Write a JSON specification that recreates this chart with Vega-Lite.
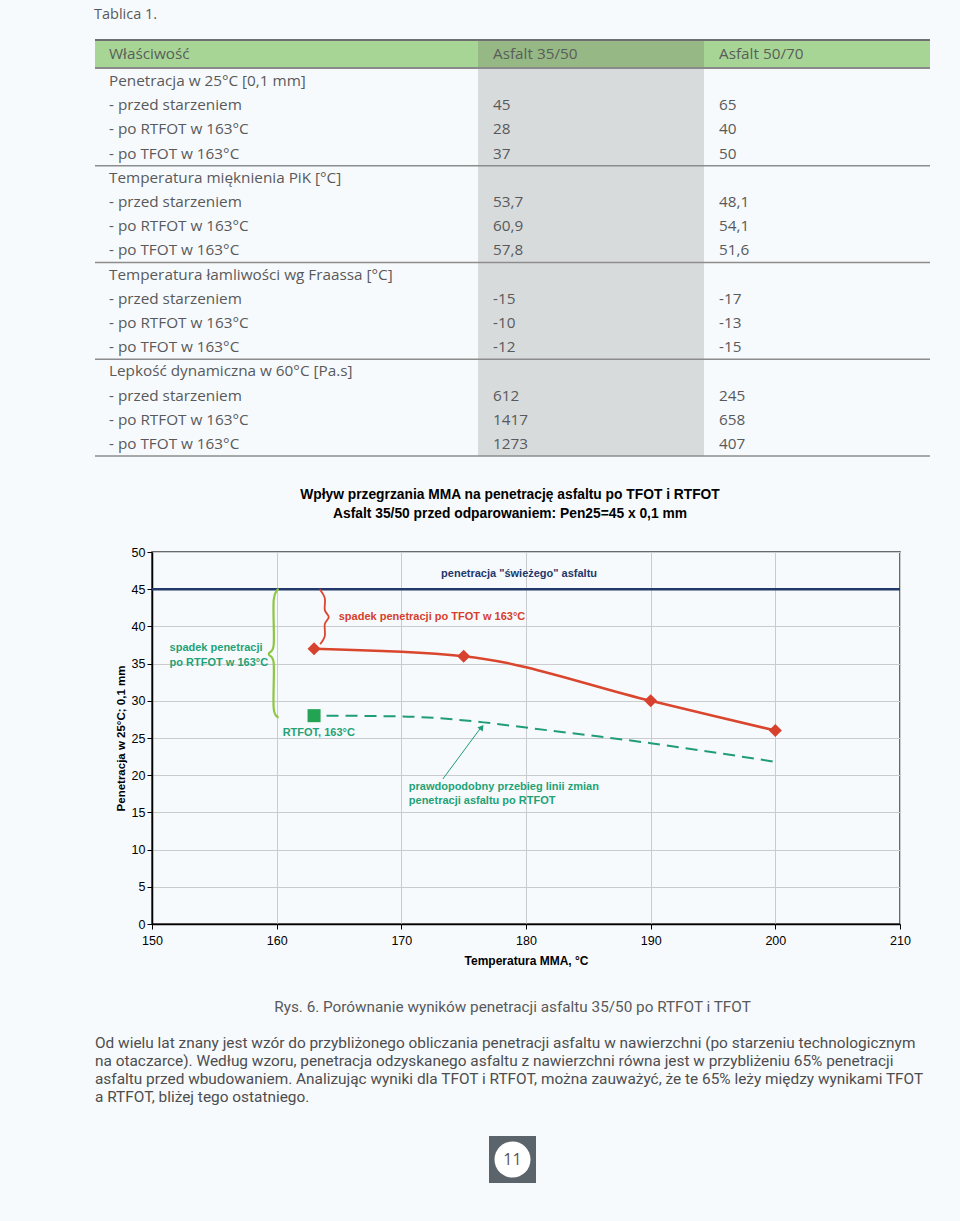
{
  "$schema": "https://vega.github.io/schema/vega-lite/v6.json",
  "background": "#f7fafc",
  "padding": {"top": 6, "left": 94, "right": 29, "bottom": 38},
  "spacing": 30,
  "config": {"view": {"stroke": null}, "font": "Open Sans"},
  "datasets": {
    "table": [
      {"line": 1, "group": "pen", "prop": "Penetracja w 25°C [0,1 mm]", "a": "", "b": ""},
      {"line": 2, "group": "pen", "prop": "- przed starzeniem", "a": "45", "b": "65"},
      {"line": 3, "group": "pen", "prop": "- po RTFOT w 163°C", "a": "28", "b": "40"},
      {"line": 4, "group": "pen", "prop": "- po TFOT w 163°C", "a": "37", "b": "50"},
      {"line": 5, "group": "pik", "prop": "Temperatura mięknienia PiK [°C]", "a": "", "b": ""},
      {"line": 6, "group": "pik", "prop": "- przed starzeniem", "a": "53,7", "b": "48,1"},
      {"line": 7, "group": "pik", "prop": "- po RTFOT w 163°C", "a": "60,9", "b": "54,1"},
      {"line": 8, "group": "pik", "prop": "- po TFOT w 163°C", "a": "57,8", "b": "51,6"},
      {"line": 9, "group": "fr", "prop": "Temperatura łamliwości wg Fraassa [°C]", "a": "", "b": ""},
      {"line": 10, "group": "fr", "prop": "- przed starzeniem", "a": "-15", "b": "-17"},
      {"line": 11, "group": "fr", "prop": "- po RTFOT w 163°C", "a": "-10", "b": "-13"},
      {"line": 12, "group": "fr", "prop": "- po TFOT w 163°C", "a": "-12", "b": "-15"},
      {"line": 13, "group": "lep", "prop": "Lepkość dynamiczna w 60°C [Pa.s]", "a": "", "b": ""},
      {"line": 14, "group": "lep", "prop": "- przed starzeniem", "a": "612", "b": "245"},
      {"line": 15, "group": "lep", "prop": "- po RTFOT w 163°C", "a": "1417", "b": "658"},
      {"line": 16, "group": "lep", "prop": "- po TFOT w 163°C", "a": "1273", "b": "407"}
    ],
    "fresh": [{"t": 150, "p": 45}, {"t": 210, "p": 45}],
    "tfot": [{"t": 163, "p": 37}, {"t": 175, "p": 36}, {"t": 190, "p": 30}, {"t": 200, "p": 26}],
    "rtfot": [{"t": 163, "p": 28}],
    "proj": [{"t": 164, "p": 28}, {"t": 170, "p": 27.9}, {"t": 176.6, "p": 27.1}, {"t": 180, "p": 26.4}, {"t": 190, "p": 24.3}, {"t": 200, "p": 21.8}],
    "brace_tfot": [{"t": 163.45, "p": 45.0}, {"t": 163.86, "p": 43.8}, {"t": 163.86, "p": 42.2}, {"t": 164.18, "p": 41.26}, {"t": 163.86, "p": 40.3}, {"t": 163.86, "p": 38.7}, {"t": 163.49, "p": 37.6}],
    "brace_rtfot": [{"t": 160.16, "p": 45.03}, {"t": 159.76, "p": 43.55}, {"t": 159.76, "p": 37.5}, {"t": 159.36, "p": 36.29}, {"t": 159.76, "p": 35.08}, {"t": 159.76, "p": 29.0}, {"t": 160.16, "p": 27.8}],
    "arrow": [{"t": 173.33, "p": 19.49}, {"t": 176.45, "p": 26.55}],
    "arrowhead": [{"t": 176.45, "p": 26.45}],
    "notes": [
      {"t": 173.19, "p": 47.04, "s": "fresh", "txt": "penetracja \"świeżego\" asfaltu"},
      {"t": 164.98, "p": 41.26, "s": "TFOT", "txt": "spadek penetracji po TFOT w 163°C"},
      {"t": 151.41, "p": 37.1, "s": "RTFOT", "txt": "spadek penetracji"},
      {"t": 151.41, "p": 35.08, "s": "RTFOT", "txt": "po RTFOT w 163°C"},
      {"t": 160.48, "p": 25.67, "s": "RTFOT", "txt": "RTFOT, 163°C"},
      {"t": 170.6, "p": 18.41, "s": "RTFOT", "txt": "prawdopodobny przebieg linii zmian"},
      {"t": 170.6, "p": 16.53, "s": "RTFOT", "txt": "penetracji asfaltu po RTFOT"}
    ],
    "para": [
      {"k": "caption", "t": "Rys. 6. Porównanie wyników penetracji asfaltu 35/50 po RTFOT i TFOT"},
      {"k": "p1", "t": "Od wielu lat znany jest wzór do przybliżonego obliczania penetracji asfaltu w nawierzchni (po starzeniu technologicznym"},
      {"k": "p2", "t": "na otaczarce). Według wzoru, penetracja odzyskanego asfaltu z nawierzchni równa jest w przybliżeniu 65% penetracji"},
      {"k": "p3", "t": "asfaltu przed wbudowaniem. Analizując wyniki dla TFOT i RTFOT, można zauważyć, że te 65% leży między wynikami TFOT"},
      {"k": "p4", "t": "a RTFOT, bliżej tego ostatniego."}
    ]
  },
  "vconcat": [
    {
      "title": {"text": "Tablica 1.", "anchor": "start", "font": "Open Sans", "fontSize": 14.5, "fontWeight": "normal", "color": "#58595b", "offset": 17},
      "spacing": 0,
      "vconcat": [
        {
          "spacing": 0,
          "bounds": "flush",
          "hconcat": [
            {
              "width": 383, "height": 28,
              "view": {"fill": "#a7d596"},
              "data": {"values": [{"h": "Właściwość"}]},
              "layer": [
                {"mark": {"type": "text", "align": "left", "baseline": "middle", "dx": 14, "fontSize": 15.3, "color": "#5a5d5a"}, "encoding": {"x": {"value": 0}, "text": {"field": "h"}}},
                {"mark": {"type": "rule", "color": "#6f6f6f", "strokeWidth": 2}, "encoding": {"x": {"value": 0}, "x2": {"value": "width"}, "y": {"value": 0}}},
                {"mark": {"type": "rule", "color": "#8a8a8a", "strokeWidth": 2}, "encoding": {"x": {"value": 0}, "x2": {"value": "width"}, "y": {"value": "height"}}}
              ]
            },
            {
              "width": 226, "height": 28,
              "view": {"fill": "#95b885"},
              "data": {"values": [{"h": "Asfalt 35/50"}]},
              "layer": [
                {"mark": {"type": "text", "align": "left", "baseline": "middle", "dx": 15, "fontSize": 15.3, "color": "#5a5d5a"}, "encoding": {"x": {"value": 0}, "text": {"field": "h"}}},
                {"mark": {"type": "rule", "color": "#6f6f6f", "strokeWidth": 2}, "encoding": {"x": {"value": 0}, "x2": {"value": "width"}, "y": {"value": 0}}},
                {"mark": {"type": "rule", "color": "#8a8a8a", "strokeWidth": 2}, "encoding": {"x": {"value": 0}, "x2": {"value": "width"}, "y": {"value": "height"}}}
              ]
            },
            {
              "width": 226, "height": 28,
              "view": {"fill": "#a7d596"},
              "data": {"values": [{"h": "Asfalt 50/70"}]},
              "layer": [
                {"mark": {"type": "text", "align": "left", "baseline": "middle", "dx": 15, "fontSize": 15.3, "color": "#5a5d5a"}, "encoding": {"x": {"value": 0}, "text": {"field": "h"}}},
                {"mark": {"type": "rule", "color": "#6f6f6f", "strokeWidth": 2}, "encoding": {"x": {"value": 0}, "x2": {"value": "width"}, "y": {"value": 0}}},
                {"mark": {"type": "rule", "color": "#8a8a8a", "strokeWidth": 2}, "encoding": {"x": {"value": 0}, "x2": {"value": "width"}, "y": {"value": "height"}}}
              ]
            }
          ]
        },
        {
          "spacing": 0,
          "bounds": "flush",
          "hconcat": [
            {
              "width": 383, "height": 387,
              "data": {"name": "table"},
              "layer": [
                {"mark": {"type": "text", "align": "left", "baseline": "middle", "dx": 14, "fontSize": 15.3, "color": "#58595b"},
                 "encoding": {"x": {"value": 0}, "y": {"field": "line", "type": "ordinal", "scale": {"type": "band", "paddingInner": 0, "paddingOuter": 0}, "axis": null}, "text": {"field": "prop"}}},
                {"transform": [{"aggregate": [{"op": "max", "field": "line", "as": "line"}], "groupby": ["group"]}],
                 "mark": {"type": "rule", "color": "#8c8c8c", "strokeWidth": 1.5},
                 "encoding": {"x": {"value": 0}, "x2": {"value": "width"}, "y": {"field": "line", "type": "ordinal", "bandPosition": 1}}}
              ]
            },
            {
              "width": 226, "height": 387,
              "view": {"fill": "#d8dbdc"},
              "data": {"name": "table"},
              "layer": [
                {"mark": {"type": "text", "align": "left", "baseline": "middle", "dx": 15, "fontSize": 15.3, "color": "#58595b"},
                 "encoding": {"x": {"value": 0}, "y": {"field": "line", "type": "ordinal", "scale": {"type": "band", "paddingInner": 0, "paddingOuter": 0}, "axis": null}, "text": {"field": "a"}}},
                {"transform": [{"aggregate": [{"op": "max", "field": "line", "as": "line"}], "groupby": ["group"]}],
                 "mark": {"type": "rule", "color": "#8c8c8c", "strokeWidth": 1.5},
                 "encoding": {"x": {"value": 0}, "x2": {"value": "width"}, "y": {"field": "line", "type": "ordinal", "bandPosition": 1}}}
              ]
            },
            {
              "width": 226, "height": 387,
              "data": {"name": "table"},
              "layer": [
                {"mark": {"type": "text", "align": "left", "baseline": "middle", "dx": 15, "fontSize": 15.3, "color": "#58595b"},
                 "encoding": {"x": {"value": 0}, "y": {"field": "line", "type": "ordinal", "scale": {"type": "band", "paddingInner": 0, "paddingOuter": 0}, "axis": null}, "text": {"field": "b"}}},
                {"transform": [{"aggregate": [{"op": "max", "field": "line", "as": "line"}], "groupby": ["group"]}],
                 "mark": {"type": "rule", "color": "#8c8c8c", "strokeWidth": 1.5},
                 "encoding": {"x": {"value": 0}, "x2": {"value": "width"}, "y": {"field": "line", "type": "ordinal", "bandPosition": 1}}}
              ]
            }
          ]
        }
      ]
    },
    {
      "spacing": 18,
      "hconcat": [
        {
          "width": 1, "height": 1,
          "data": {"values": [{}]},
          "mark": {"type": "text", "text": ""}
        },
        {
          "width": 748, "height": 372,
          "view": {"stroke": "#3a3a3a", "strokeWidth": 1.5},
          "title": {"text": ["Wpływ przegrzania MMA na penetrację asfaltu po TFOT i RTFOT", "Asfalt 35/50 przed odparowaniem: Pen25=45 x 0,1 mm"], "font": "Liberation Sans", "fontSize": 13.8, "fontWeight": "bold", "color": "#000000", "lineHeight": 19, "anchor": "middle", "dx": -16, "offset": 25},
          "encoding": {
            "x": {"field": "t", "type": "quantitative", "scale": {"domain": [150, 210], "nice": false, "zero": false},
                  "axis": {"values": [150, 160, 170, 180, 190, 200, 210], "format": "d", "title": "Temperatura MMA, °C",
                           "titleFont": "Liberation Sans Narrow, Liberation Sans", "titleFontSize": 12, "titleFontWeight": "bold", "titleColor": "#000000", "titlePadding": 9,
                           "labelFont": "Liberation Sans Narrow, Liberation Sans", "labelFontSize": 12.5, "labelColor": "#000000", "labelPadding": 5, "labelFlush": false,
                           "tickColor": "#000000", "tickSize": 5, "domainColor": "#000000", "domainWidth": 1.5, "gridColor": "#c9cbcd", "gridWidth": 1}},
            "y": {"field": "p", "type": "quantitative", "scale": {"domain": [0, 50], "nice": false},
                  "axis": {"values": [0, 5, 10, 15, 20, 25, 30, 35, 40, 45, 50], "title": "Penetracja w 25°C; 0,1 mm",
                           "titleFont": "Liberation Sans", "titleFontSize": 11.5, "titleFontWeight": "bold", "titleColor": "#000000", "titlePadding": 5,
                           "labelFont": "Liberation Sans", "labelFontSize": 12.5, "labelColor": "#000000", "labelPadding": 2,
                           "tickColor": "#000000", "tickSize": 5, "domainColor": "#000000", "domainWidth": 1.5, "gridColor": "#c9cbcd", "gridWidth": 1}}
          },
          "layer": [
            {"data": {"name": "fresh"}, "mark": {"type": "line", "color": "#23386b", "strokeWidth": 2.5}},
            {"data": {"name": "proj"}, "mark": {"type": "line", "color": "#1f9d74", "strokeWidth": 2, "strokeDash": [12, 7], "interpolate": "monotone"}},
            {"data": {"name": "tfot"}, "mark": {"type": "line", "color": "#d9452d", "strokeWidth": 2.5, "interpolate": "monotone"}},
            {"data": {"name": "tfot"}, "mark": {"type": "point", "shape": "diamond", "filled": true, "opacity": 1, "size": 170, "color": "#d9412f"}},
            {"data": {"name": "rtfot"}, "mark": {"type": "point", "shape": "square", "filled": true, "opacity": 1, "size": 170, "color": "#23a455"}},
            {"data": {"name": "brace_tfot"}, "mark": {"type": "line", "color": "#d9452d", "strokeWidth": 1.8, "interpolate": "cardinal"}, "encoding": {"order": {"value": null}}},
            {"data": {"name": "brace_rtfot"}, "mark": {"type": "line", "color": "#8dc641", "strokeWidth": 2.2, "interpolate": "cardinal"}, "encoding": {"order": {"value": null}}},
            {"data": {"name": "arrow"}, "mark": {"type": "line", "color": "#1f9d74", "strokeWidth": 1}},
            {"data": {"name": "arrowhead"}, "mark": {"type": "point", "shape": "triangle-up", "filled": true, "opacity": 1, "size": 45, "angle": 37, "color": "#1f9d74"}},
            {"data": {"name": "notes"},
             "mark": {"type": "text", "align": "left", "baseline": "middle", "font": "Liberation Sans", "fontSize": 11, "fontWeight": "bold"},
             "encoding": {"text": {"field": "txt"}, "color": {"field": "s", "type": "nominal", "scale": {"domain": ["fresh", "TFOT", "RTFOT"], "range": ["#23386b", "#d63f2c", "#1fa277"]}, "legend": null}}}
          ]
        }
      ]
    },
    {
      "spacing": 30,
      "center": true,
      "vconcat": [
        {
          "width": 835, "height": 108,
          "data": {"name": "para"},
          "layer": [
            {"transform": [{"filter": "datum.k == 'caption'"}],
             "mark": {"type": "text", "font": "Roboto", "fontSize": 15.3, "color": "#58595b", "baseline": "middle"},
             "encoding": {"y": {"field": "k", "type": "nominal", "scale": {"type": "band", "domain": ["caption", "gap", "p1", "p2", "p3", "p4"], "paddingInner": 0, "paddingOuter": 0}, "axis": null}, "text": {"field": "t"}}},
            {"transform": [{"filter": "datum.k != 'caption'"}],
             "mark": {"type": "text", "font": "Roboto", "fontSize": 15.4, "color": "#4d4d4f", "align": "left", "baseline": "middle"},
             "encoding": {"x": {"value": 0}, "y": {"field": "k", "type": "nominal"}, "text": {"field": "t"}}}
          ]
        },
        {
          "width": 47, "height": 47,
          "view": {"fill": "#5c646b"},
          "data": {"values": [{"page": "11"}]},
          "layer": [
            {"mark": {"type": "point", "shape": "circle", "filled": true, "opacity": 1, "color": "#ffffff", "size": 1296}, "encoding": {}},
            {"mark": {"type": "text", "font": "Open Sans", "fontSize": 16, "color": "#555555"}, "encoding": {"text": {"field": "page"}}}
          ]
        }
      ]
    }
  ]
}
